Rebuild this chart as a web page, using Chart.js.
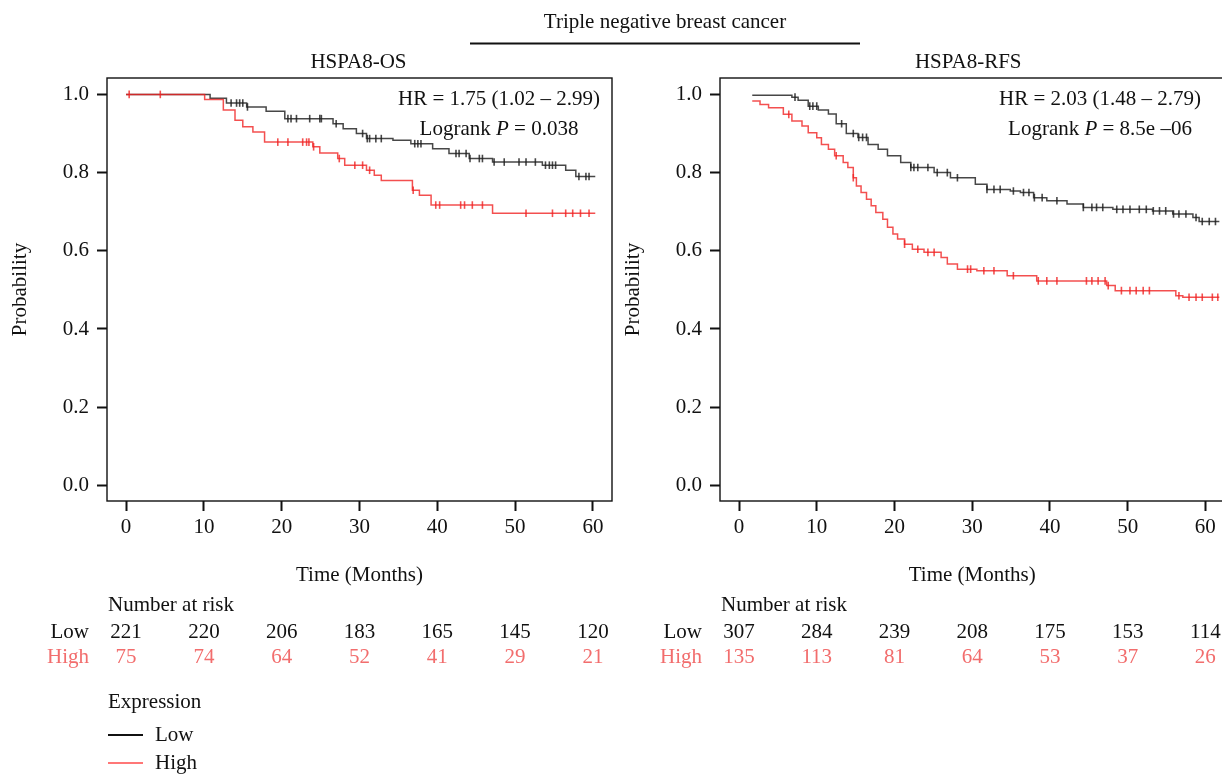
<!DOCTYPE html>
<html>
<head>
<meta charset="utf-8">
<script src="https://cdn.jsdelivr.net/npm/chart.js@4/dist/chart.umd.min.js"></script>
<style>
  html, body { margin: 0; padding: 0; background: #fff; overflow: hidden; }
  #wrap { position: relative; width: 1222px; height: 775px; overflow: hidden; }
  canvas { position: absolute; left: 0; top: 0; }
</style>
</head>
<body>
<div id="wrap">
  <canvas id="osChart"></canvas>
  <canvas id="rfsChart"></canvas>
</div>
<script>
// HSPA8-OS curves (time in months, survival probability from that time on)
const osTimeLow = [0, 10.8, 12.9, 15.5, 18.0, 20.4, 26.6, 27.9, 29.6, 30.9, 34.3, 36.6, 39.4, 41.5, 44.1, 47.1, 53.5, 56.5, 57.8, 60.3];
const osSurvLow = [1.0, 0.99, 0.978, 0.968, 0.957, 0.938, 0.925, 0.912, 0.90, 0.887, 0.883, 0.874, 0.861, 0.849, 0.836, 0.827, 0.819, 0.806, 0.79, 0.79];
const osTimeHigh = [0, 10.1, 12.5, 14.0, 15.0, 16.3, 17.8, 24.0, 24.9, 27.2, 28.1, 30.9, 31.9, 32.8, 36.8, 37.7, 39.2, 47.1, 60.3];
const osSurvHigh = [1.0, 0.987, 0.96, 0.934, 0.917, 0.904, 0.878, 0.866, 0.85, 0.836, 0.819, 0.806, 0.793, 0.78, 0.755, 0.742, 0.717, 0.696, 0.696];
const osCensorLow = [13.5, 14.2, 14.6, 15.0, 15.6, 20.8, 21.2, 21.9, 23.6, 24.9, 25.1, 27.0, 30.4, 31.0, 31.3, 32.1, 32.8, 37.1, 37.5, 37.9, 42.4, 42.8, 43.7, 44.2, 45.4, 45.8, 47.3, 48.6, 50.5, 51.4, 52.6, 53.9, 54.4, 54.8, 55.2, 58.2, 59.1, 59.5];
const osCensorHigh = [0.4, 4.4, 19.5, 20.8, 22.7, 23.2, 23.5, 24.1, 27.4, 29.4, 30.4, 31.3, 36.9, 39.8, 40.3, 43.0, 43.5, 44.5, 45.8, 51.4, 54.8, 56.5, 57.4, 58.4, 59.5];
const osRiskLow = [221, 220, 206, 183, 165, 145, 120];
const osRiskHigh = [75, 74, 64, 52, 41, 29, 21];

// HSPA8-RFS curves
const rfsTimeLow = [1.7, 6.8, 7.6, 8.9, 10.2, 11.5, 12.5, 13.8, 15.3, 16.6, 17.9, 19.1, 20.8, 22.1, 25.1, 27.2, 30.4, 31.9, 34.9, 36.2, 37.9, 39.6, 42.2, 44.3, 48.1, 53.2, 55.8, 58.4, 59.2, 61.8];
const rfsSurvLow = [0.998, 0.993, 0.985, 0.97, 0.96, 0.95, 0.925, 0.90, 0.89, 0.872, 0.86, 0.843, 0.826, 0.813, 0.80, 0.787, 0.77, 0.757, 0.753, 0.749, 0.736, 0.728, 0.72, 0.711, 0.706, 0.702, 0.694, 0.685, 0.675, 0.675];
const rfsTimeHigh = [1.7, 2.7, 3.8, 5.7, 6.8, 8.1, 8.9, 10.0, 10.6, 11.5, 12.3, 13.4, 14.0, 14.7, 15.1, 15.7, 16.4, 17.0, 17.6, 18.5, 19.1, 19.8, 20.4, 21.3, 22.3, 23.8, 26.0, 26.8, 28.1, 30.6, 34.5, 38.3, 47.3, 48.4, 56.2, 57.1, 61.8];
const rfsSurvHigh = [0.983, 0.974, 0.966, 0.949, 0.932, 0.919, 0.902, 0.889, 0.872, 0.86, 0.843, 0.826, 0.813, 0.787, 0.766, 0.749, 0.732, 0.715, 0.698, 0.681, 0.66, 0.643, 0.63, 0.617, 0.604, 0.596, 0.583, 0.566, 0.553, 0.549, 0.536, 0.523, 0.511, 0.498, 0.485, 0.481, 0.481];
const rfsCensorLow = [7.2, 9.1, 9.5, 10.0, 13.2, 14.7, 15.4, 15.9, 16.4, 22.1, 22.5, 23.0, 24.3, 25.5, 26.8, 28.1, 31.9, 32.8, 33.6, 35.3, 36.6, 37.3, 38.0, 39.0, 40.9, 44.3, 45.4, 46.0, 46.8, 48.6, 49.4, 50.3, 51.5, 52.4, 53.3, 54.1, 54.9, 55.9, 56.6, 57.5, 58.8, 59.6, 60.5, 61.3];
const rfsCensorHigh = [6.4, 12.5, 14.7, 21.3, 23.0, 24.3, 25.1, 29.4, 29.8, 31.5, 32.8, 35.3, 38.5, 39.6, 40.9, 44.7, 45.4, 46.2, 47.1, 47.5, 49.2, 50.3, 51.1, 52.0, 52.8, 56.6, 57.9, 58.8, 59.6, 60.9, 61.6];
const rfsRiskLow = [307, 284, 239, 208, 175, 153, 114];
const rfsRiskHigh = [135, 113, 81, 64, 53, 37, 26];

const xTicks = [0, 10, 20, 30, 40, 50, 60];
const yTicks = [0, 0.2, 0.4, 0.6, 0.8, 1.0];

const FONT_FAMILY = "'Liberation Serif', 'DejaVu Serif', serif";
const FONT = '21px ' + FONT_FAMILY;
const LOW_COLOR = 'rgba(30,30,30,0.82)';
const HIGH_COLOR = 'rgba(240,35,35,0.8)';
const HIGH_TEXT = '#f26d6d';

function stepPoints(times, surv) {
    return times.map((t, i) => ({ x: t, y: surv[i] }));
}

// place each censoring mark on the curve value at that time
function censorPoints(times, surv, censor) {
    return censor.map(c => {
        let v = surv[0];
        for (let i = 0; i < times.length; i++) {
            if (times[i] <= c) v = surv[i];
        }
        return { x: c, y: v };
    });
}

function fillPieces(ctx, pieces, cx, y) {
    let total = 0;
    pieces.forEach(p => { ctx.font = p.font; total += ctx.measureText(p.text).width; });
    let x = cx - total / 2;
    ctx.textAlign = 'left';
    pieces.forEach(p => {
        ctx.font = p.font;
        ctx.fillText(p.text, x, y);
        x += ctx.measureText(p.text).width;
    });
}

const decor = {
    id: 'decor',
    afterDraw(chart, args, o) {
        const { ctx, chartArea: a, scales: { x } } = chart;
        ctx.save();
        ctx.strokeStyle = '#111';
        ctx.lineWidth = 1.4;
        ctx.strokeRect(a.left, a.top, a.right - a.left, a.bottom - a.top);

        ctx.fillStyle = '#111';
        ctx.font = FONT;
        ctx.textAlign = 'center';
        ctx.textBaseline = 'middle';
        const cx = (a.left + a.right) / 2;
        ctx.fillText(o.title, cx + o.titleShift, 62);
        ctx.fillText('Time (Months)', cx, 575);

        ctx.save();
        ctx.translate(a.left - 87, (a.top + a.bottom) / 2);
        ctx.rotate(-Math.PI / 2);
        ctx.fillText('Probability', 0, 0);
        ctx.restore();

        fillPieces(ctx, [{ text: o.hr, font: FONT }], o.hrX, 99);
        fillPieces(ctx, [
            { text: 'Logrank ', font: FONT },
            { text: 'P', font: 'italic ' + FONT },
            { text: ' = ' + o.p, font: FONT }
        ], o.hrX, 129);

        // number at risk table
        ctx.textAlign = 'left';
        ctx.font = FONT;
        ctx.fillText('Number at risk', a.left + 1, 605);
        ctx.textAlign = 'right';
        ctx.fillText('Low', a.left - 18, 632);
        ctx.fillStyle = HIGH_TEXT;
        ctx.fillText('High', a.left - 18, 657);
        ctx.textAlign = 'center';
        xTicks.forEach((t, i) => {
            const px = x.getPixelForValue(t);
            ctx.fillStyle = '#111';
            ctx.fillText(String(o.riskLow[i]), px, 632);
            ctx.fillStyle = HIGH_TEXT;
            ctx.fillText(String(o.riskHigh[i]), px, 657);
        });

        if (o.legend) {
            ctx.fillStyle = '#111';
            ctx.textAlign = 'center';
            ctx.fillText('Triple negative breast cancer', 665, 22);
            ctx.beginPath();
            ctx.lineWidth = 2;
            ctx.moveTo(470, 43.5);
            ctx.lineTo(860, 43.5);
            ctx.stroke();

            ctx.textAlign = 'left';
            ctx.fillText('Expression', 108, 702);
            ctx.fillText('Low', 155, 735);
            ctx.fillText('High', 155, 763);
            ctx.lineWidth = 2;
            ctx.strokeStyle = '#111';
            ctx.beginPath(); ctx.moveTo(108, 735); ctx.lineTo(143, 735); ctx.stroke();
            ctx.strokeStyle = '#f77';
            ctx.beginPath(); ctx.moveTo(108, 763); ctx.lineTo(143, 763); ctx.stroke();
        }
        ctx.restore();
    }
};

function makeChart(id, d) {
    const el = document.getElementById(id);
    el.width = 1230;
    el.height = 775;
    el.style.width = '1230px';
    el.style.height = '775px';
    const censorStyle = color => ({
        type: 'scatter',
        pointStyle: 'line',
        rotation: 90,
        pointRadius: 3.8,
        borderColor: color,
        borderWidth: 1.6
    });
    return new Chart(el, {
        type: 'line',
        data: {
            datasets: [
                {
                    label: 'High',
                    data: stepPoints(d.tHigh, d.sHigh),
                    stepped: true,
                    borderColor: HIGH_COLOR,
                    borderWidth: 1.5,
                    pointRadius: 0
                },
                Object.assign({ label: 'High censored', data: censorPoints(d.tHigh, d.sHigh, d.cHigh) }, censorStyle(HIGH_COLOR)),
                {
                    label: 'Low',
                    data: stepPoints(d.tLow, d.sLow),
                    stepped: true,
                    borderColor: LOW_COLOR,
                    borderWidth: 1.5,
                    pointRadius: 0
                },
                Object.assign({ label: 'Low censored', data: censorPoints(d.tLow, d.sLow, d.cLow) }, censorStyle(LOW_COLOR))
            ]
        },
        options: {
            responsive: false,
            animation: false,
            events: [],
            layout: { padding: d.padding },
            plugins: {
                legend: { display: false },
                tooltip: { enabled: false },
                decor: d.text
            },
            scales: {
                x: {
                    type: 'linear',
                    min: -2.45,
                    max: 62.45,
                    afterFit: s => { s.height = 40; },
                    afterBuildTicks: s => { s.ticks = xTicks.map(v => ({ value: v })); },
                    grid: { drawOnChartArea: false, drawTicks: true, tickLength: 10, tickWidth: 2, tickColor: '#111' },
                    border: { display: false },
                    ticks: { color: '#111', padding: 4, maxRotation: 0, font: { family: FONT_FAMILY, size: 21 } }
                },
                y: {
                    type: 'linear',
                    min: -0.04,
                    max: 1.042,
                    afterFit: s => { s.width = 60; },
                    afterBuildTicks: s => { s.ticks = yTicks.map(v => ({ value: v })); },
                    grid: { drawOnChartArea: false, drawTicks: true, tickLength: 10, tickWidth: 2, tickColor: '#111' },
                    border: { display: false },
                    ticks: { color: '#111', padding: 8, callback: v => v.toFixed(1), font: { family: FONT_FAMILY, size: 21 } }
                }
            }
        },
        plugins: [decor]
    });
}

makeChart('osChart', {
    tLow: osTimeLow, sLow: osSurvLow, cLow: osCensorLow,
    tHigh: osTimeHigh, sHigh: osSurvHigh, cHigh: osCensorHigh,
    padding: { left: 47, right: 618, top: 78, bottom: 234 },
    text: { title: 'HSPA8-OS', titleShift: -1, hr: 'HR = 1.75 (1.02 \u2013 2.99)', p: '0.038', hrX: 499,
            riskLow: osRiskLow, riskHigh: osRiskHigh, legend: true }
});

makeChart('rfsChart', {
    tLow: rfsTimeLow, sLow: rfsSurvLow, cLow: rfsCensorLow,
    tHigh: rfsTimeHigh, sHigh: rfsSurvHigh, cHigh: rfsCensorHigh,
    padding: { left: 660, right: 5, top: 78, bottom: 234 },
    text: { title: 'HSPA8-RFS', titleShift: -4, hr: 'HR = 2.03 (1.48 \u2013 2.79)', p: '8.5e \u201306', hrX: 1100,
            riskLow: rfsRiskLow, riskHigh: rfsRiskHigh, legend: false }
});
</script>
</body>
</html>
